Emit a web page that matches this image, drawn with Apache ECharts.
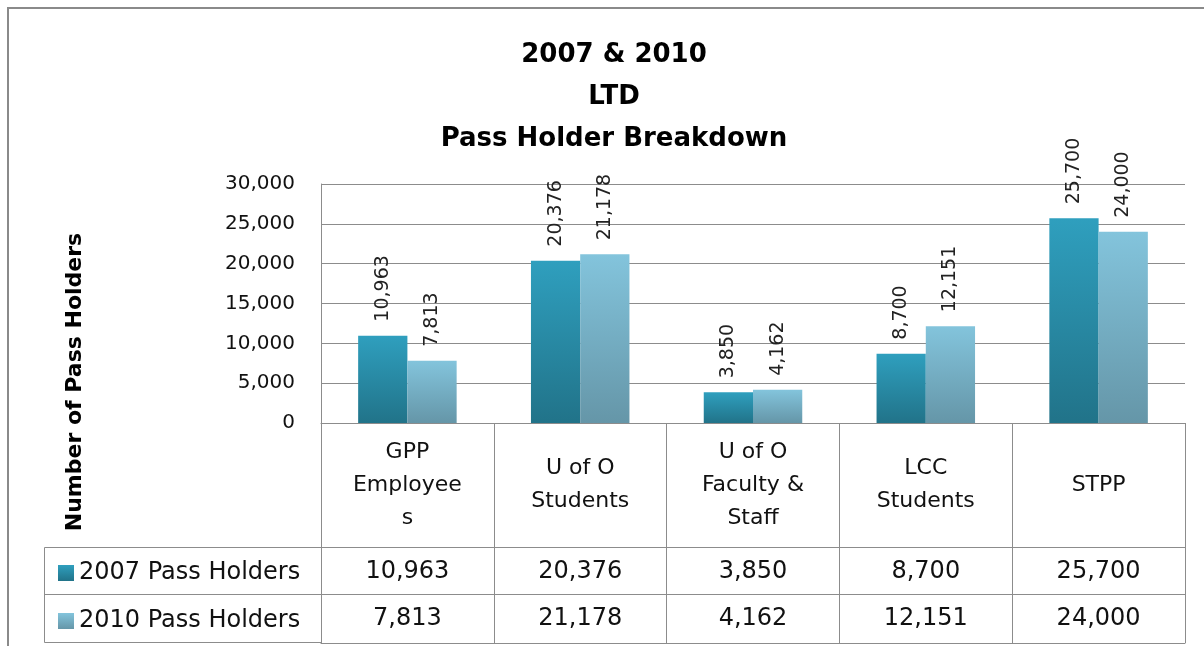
<!DOCTYPE html>
<html>
<head>
<meta charset="utf-8">
<script src="https://cdn.jsdelivr.net/npm/echarts@6/dist/echarts.min.js"></script>
<style>
  html, body { margin: 0; padding: 0; background: #fff; }
  #chart { width: 1204px; height: 646px; }
</style>
</head>
<body>
<div id="chart"></div>
<script>
// data
const categories = ['GPP\nEmployee\ns', 'U of O\nStudents', 'U of O\nFaculty &\nStaff', 'LCC\nStudents', 'STPP'];
const seriesNames = ['2007 Pass Holders', '2010 Pass Holders'];
const holders2007 = [10963, 20376, 3850, 8700, 25700];
const holders2010 = [7813, 21178, 4162, 12151, 24000];
const yTicks = { min: 0, max: 30000, interval: 5000 };

const font = 'DejaVu Sans';
const gridColor = '#8c8c8c';
const fmt = (v) => Number(v).toLocaleString('en-US');

const grad = (top, bottom) => new echarts.graphic.LinearGradient(0, 0, 0, 1, [
  { offset: 0, color: top },
  { offset: 1, color: bottom },
]);

const chart = echarts.init(document.getElementById('chart'));

// one row of the data table under the plot
const tableAxis = (offset, values) => ({
  type: 'category',
  gridIndex: 0,
  position: 'bottom',
  offset: offset,
  data: categories,
  axisLine: { show: true, lineStyle: { color: gridColor, width: 1 } },
  axisTick: { show: false },
  axisLabel: {
    show: !!values,
    margin: 25,
    verticalAlign: 'middle',
    fontFamily: font,
    fontSize: 24,
    color: '#111',
    formatter: (v, i) => (values ? fmt(values[i]) : ''),
  },
});

const barLabel = {
  show: true,
  position: 'top',
  rotate: 90,
  align: 'left',
  verticalAlign: 'middle',
  distance: 14,
  fontFamily: font,
  fontSize: 19,
  color: '#222',
  formatter: (p) => fmt(p.value),
};

const option = {
  backgroundColor: '#fff',
  animation: false,
  title: {
    text: '2007 & 2010\nLTD\nPass Holder Breakdown',
    left: 609,
    top: 29,
    textAlign: 'center',
    textStyle: {
      fontFamily: font,
      fontSize: 26,
      fontWeight: 'bold',
      color: '#000',
      lineHeight: 42,
    },
  },
  legend: {
    orient: 'vertical',
    left: 53,
    top: 556,
    itemWidth: 16,
    itemHeight: 16,
    itemGap: 24,
    icon: 'rect',
    data: seriesNames,
    textStyle: { fontFamily: font, fontSize: 24, color: '#111' },
  },
  grid: { left: 321, right: 19, top: 184, bottom: 223, containLabel: false },
  xAxis: [
    {
      type: 'category',
      data: categories,
      axisLine: { show: true, lineStyle: { color: gridColor, width: 1 } },
      axisTick: { show: true, length: 220, lineStyle: { color: gridColor, width: 1 } },
      axisLabel: {
        margin: 62,
        verticalAlign: 'middle',
        fontFamily: font,
        fontSize: 22,
        lineHeight: 33,
        color: '#111',
        interval: 0,
      },
    },
    tableAxis(124, holders2007),
    tableAxis(171, holders2010),
    tableAxis(220, null),
  ],
  yAxis: {
    type: 'value',
    min: yTicks.min,
    max: yTicks.max,
    interval: yTicks.interval,
    axisLine: { show: true, lineStyle: { color: gridColor, width: 1 } },
    axisTick: { show: false },
    splitLine: { lineStyle: { color: gridColor, width: 1 } },
    axisLabel: {
      margin: 26,
      fontFamily: font,
      fontSize: 20,
      color: '#111',
      formatter: (v) => fmt(v),
    },
  },
  series: [
    {
      name: seriesNames[0],
      type: 'bar',
      xAxisIndex: 0,
      data: holders2007,
      barGap: '0%',
      barCategoryGap: '43%',
      itemStyle: { color: grad('#2f9fbe', '#217389') },
      label: barLabel,
    },
    {
      name: seriesNames[1],
      type: 'bar',
      xAxisIndex: 0,
      data: holders2010,
      barGap: '0%',
      barCategoryGap: '43%',
      itemStyle: { color: grad('#83c4dc', '#6596a8') },
      label: barLabel,
    },
  ],
  graphic: [
    // outer chart frame
    {
      type: 'rect',
      shape: { x: 8, y: 8, width: 1300, height: 800 },
      style: { fill: 'none', stroke: '#8a8a8a', lineWidth: 2 },
      silent: true,
    },
    // legend column of the data table
    {
      type: 'rect',
      shape: { x: 44.5, y: 547.5, width: 277, height: 95 },
      style: { fill: 'none', stroke: gridColor, lineWidth: 1 },
      silent: true,
    },
    {
      type: 'line',
      shape: { x1: 44.5, y1: 594.5, x2: 321, y2: 594.5 },
      style: { stroke: gridColor, lineWidth: 1 },
      silent: true,
    },
    // rotated y axis title
    {
      type: 'text',
      x: 75,
      y: 382,
      rotation: Math.PI / 2,
      style: {
        text: 'Number of Pass Holders',
        fontFamily: font,
        fontSize: 22,
        fontWeight: 'bold',
        fill: '#000',
        textAlign: 'center',
        textVerticalAlign: 'middle',
      },
    },
  ],
};

chart.setOption(option);
</script>
</body>
</html>
